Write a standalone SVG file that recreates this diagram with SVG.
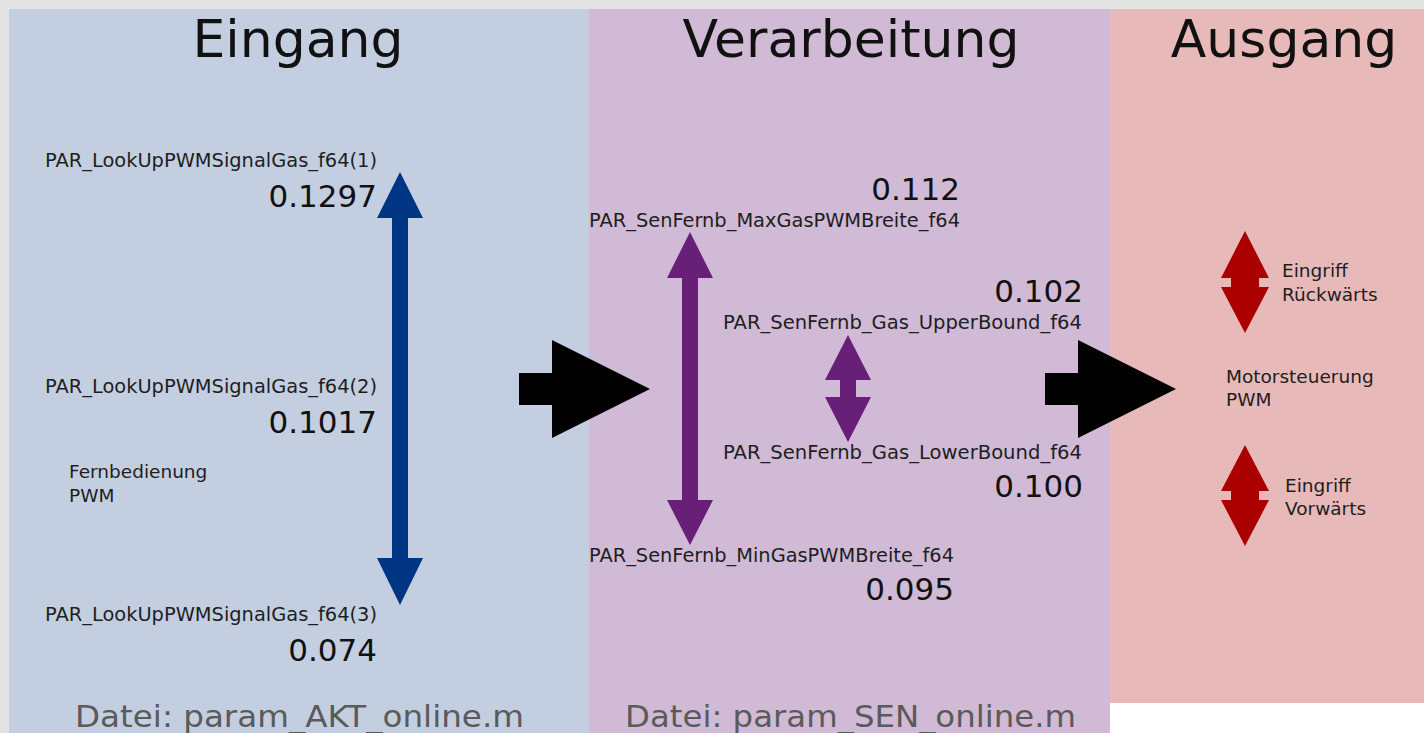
<svg xmlns="http://www.w3.org/2000/svg" width="1424" height="733" viewBox="0 0 1424 733">
<style>
text{font-family:"DejaVu Sans","Liberation Sans",sans-serif}
.title{font-size:52px;fill:#111;text-anchor:middle}
.lbl{font-size:19.2px;fill:#1e1e1e}
.num{font-size:31px;fill:#111;text-anchor:end}
.sm{font-size:18.5px;fill:#1e1e1e}
.foot{font-size:30px;fill:#5a5a5a}
.blk{fill:#000}
.blue{fill:#003584}
.purp{fill:#671f78}
.red{fill:#aa0000}
</style>
<rect x="0" y="0" width="1424" height="733" fill="#e3e3e3"/>
<g id="panel-eingang">
<rect x="9" y="9" width="580" height="724" fill="#c3cfe1"/>
<text class="title" x="298" y="57">Eingang</text>
<text class="foot" x="75" y="727" textLength="449" lengthAdjust="spacingAndGlyphs">Datei: param_AKT_online.m</text>
</g>
<g id="panel-verarbeitung">
<rect x="589" y="9" width="521" height="724" fill="#d0bad5"/>
<text class="title" x="851" y="57">Verarbeitung</text>
<text class="foot" x="625" y="727" textLength="451" lengthAdjust="spacingAndGlyphs">Datei: param_SEN_online.m</text>
</g>
<g id="panel-ausgang">
<rect x="1110" y="703" width="314" height="30" fill="#ffffff"/>
<rect x="1110" y="9" width="314" height="694" fill="#e7b9b9"/>
<text class="title" x="1284" y="57">Ausgang</text>
</g>
<g id="eingang-values">
<text class="lbl" x="45" y="167" textLength="332" lengthAdjust="spacingAndGlyphs">PAR_LookUpPWMSignalGas_f64(1)</text>
<text class="num" x="377" y="207">0.1297</text>
<text class="lbl" x="45" y="393" textLength="332" lengthAdjust="spacingAndGlyphs">PAR_LookUpPWMSignalGas_f64(2)</text>
<text class="num" x="377" y="433">0.1017</text>
<text class="sm" x="69" y="478">Fernbedienung</text>
<text class="sm" x="69" y="502">PWM</text>
<text class="lbl" x="45" y="621" textLength="332" lengthAdjust="spacingAndGlyphs">PAR_LookUpPWMSignalGas_f64(3)</text>
<text class="num" x="377" y="661">0.074</text>
<path class="blue" d="M400,172 L423,218 L408,218 L408,558 L423,558 L400,605 L377,558 L392,558 L392,218 L377,218 Z"/>
</g>
<g id="verarbeitung-values">
<text class="num" x="960" y="200">0.112</text>
<text class="lbl" x="589" y="227" textLength="371" lengthAdjust="spacingAndGlyphs">PAR_SenFernb_MaxGasPWMBreite_f64</text>
<text class="num" x="1083" y="302">0.102</text>
<text class="lbl" x="723" y="329" textLength="359" lengthAdjust="spacingAndGlyphs">PAR_SenFernb_Gas_UpperBound_f64</text>
<text class="lbl" x="723" y="459" textLength="359" lengthAdjust="spacingAndGlyphs">PAR_SenFernb_Gas_LowerBound_f64</text>
<text class="num" x="1083" y="497">0.100</text>
<text class="lbl" x="589" y="562" textLength="365" lengthAdjust="spacingAndGlyphs">PAR_SenFernb_MinGasPWMBreite_f64</text>
<text class="num" x="954" y="600">0.095</text>
<path class="purp" d="M690,232 L713,278 L698,278 L698,500 L713,500 L690,545 L667,500 L682,500 L682,278 L667,278 Z"/>
<path class="purp" d="M848,335 L871,380 L856,380 L856,397 L871,397 L848,442 L825,397 L840,397 L840,380 L825,380 Z"/>
</g>
<g id="ausgang-values">
<text class="sm" x="1226" y="383">Motorsteuerung</text>
<text class="sm" x="1226" y="406">PWM</text>
<text class="sm" x="1282" y="277">Eingriff</text>
<text class="sm" x="1282" y="301">Rückwärts</text>
<text class="sm" x="1285" y="492">Eingriff</text>
<text class="sm" x="1285" y="515">Vorwärts</text>
<path class="red" d="M1245,231 L1269,278 L1259,278 L1259,287 L1269,287 L1245,333 L1221,287 L1231,287 L1231,278 L1221,278 Z"/>
<path class="red" d="M1245,445 L1269,491 L1259,491 L1259,500 L1269,500 L1245,546 L1221,500 L1231,500 L1231,491 L1221,491 Z"/>
</g>
<g id="connectors">
<path class="blk" d="M519,373 L552,373 L552,340 L650,389 L552,438 L552,405 L519,405 Z"/>
<path class="blk" d="M1045,373 L1078,373 L1078,340 L1176,389 L1078,438 L1078,405 L1045,405 Z"/>
</g>
</svg>
